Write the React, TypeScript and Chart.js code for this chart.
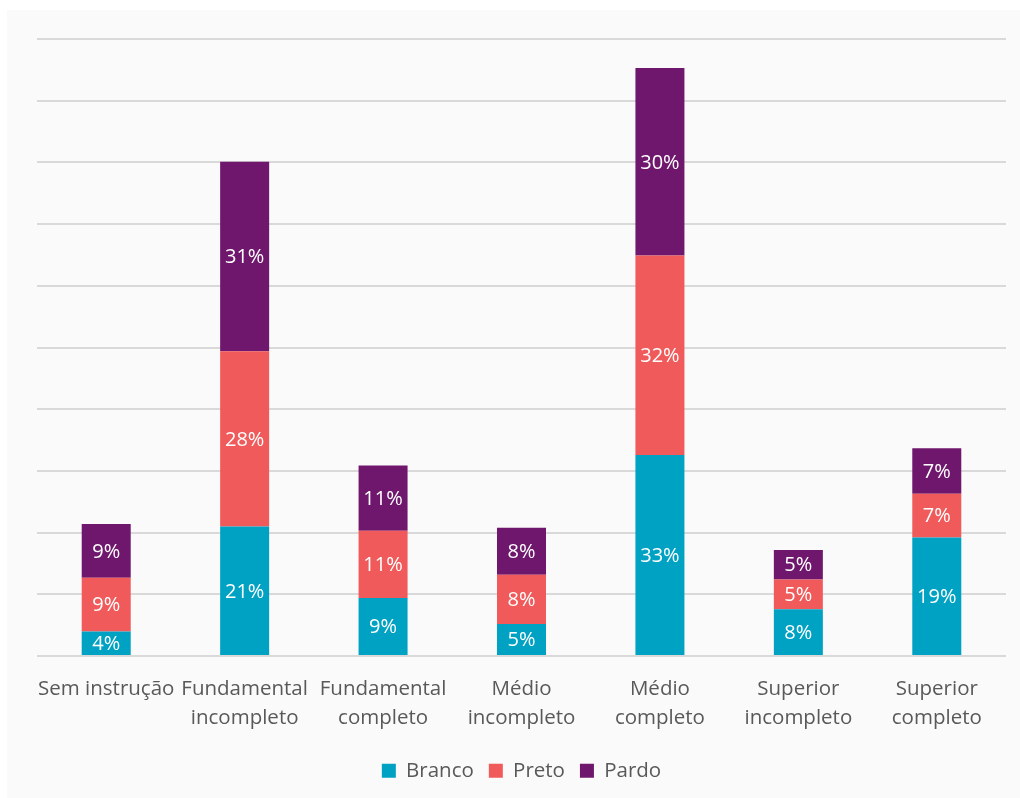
import React, { useEffect, useRef } from "react";
import { Chart, registerables } from "chart.js";

Chart.register(...registerables);

const categories: string[][] = [
  ["Sem instrução"],
  ["Fundamental", "incompleto"],
  ["Fundamental", "completo"],
  ["Médio", "incompleto"],
  ["Médio", "completo"],
  ["Superior", "incompleto"],
  ["Superior", "completo"],
];

const branco = [4.0, 21.0, 9.4, 5.2, 32.6, 7.6, 19.2];
const preto = [8.7, 28.4, 10.9, 8.0, 32.3, 4.8, 7.1];
const pardo = [8.7, 30.7, 10.6, 7.6, 30.4, 4.8, 7.4];

const seriesNames = ["Branco", "Preto", "Pardo"];
const seriesColors = ["#00A2C4", "#F05A5A", "#6F176D"];

const FONT = "'Open Sans', 'DejaVu Sans', sans-serif";

const valueLabels = {
  id: "valueLabels",
  afterDatasetsDraw(chart: any) {
    const ctx = chart.ctx;
    ctx.save();
    ctx.fillStyle = "#FFFFFF";
    ctx.font = `20px ${FONT}`;
    ctx.textAlign = "center";
    ctx.textBaseline = "middle";
    chart.data.datasets.forEach((ds: any, di: number) => {
      const meta = chart.getDatasetMeta(di);
      if (meta.hidden) return;
      meta.data.forEach((el: any, i: number) => {
        const v = ds.data[i] as number;
        const y = (el.y + el.base) / 2;
        ctx.fillText(`${Math.round(v)}%`, el.x, y + 1);
      });
    });
    ctx.restore();
  },
};

export default function App() {
  const ref = useRef<HTMLCanvasElement | null>(null);

  useEffect(() => {
    document.body.style.margin = "0";
    const canvas = ref.current;
    if (!canvas) return;
    Chart.defaults.font.family = FONT;
    const data = [branco, preto, pardo];
    const chart = new Chart(canvas, {
      type: "bar",
      data: {
        labels: categories,
        datasets: seriesNames.map((name, i) => ({
          label: name,
          data: data[i],
          backgroundColor: seriesColors[i],
          borderWidth: 0,
          barPercentage: 0.354,
          categoryPercentage: 1,
        })),
      },
      plugins: [valueLabels],
      options: {
        responsive: true,
        maintainAspectRatio: false,
        animation: false,
        layout: { padding: { left: 30, right: 14, top: 29, bottom: 7 } },
        scales: {
          x: {
            stacked: true,
            grid: { display: false, drawTicks: false },
            border: { display: false },
            ticks: {
              color: "#595959",
              font: { size: 20.5, lineHeight: 1.4 },
              padding: 19,
              maxRotation: 0,
              autoSkip: false,
            },
            afterFit(scale: any) {
              scale.height -= 6;
            },
          },
          y: {
            stacked: true,
            min: 0,
            max: 100,
            ticks: { display: false, stepSize: 10 },
            grid: { color: "#D9D9D9", lineWidth: 2, drawTicks: false },
            border: { display: false },
          },
        },
        plugins: {
          legend: {
            position: "bottom",
            labels: {
              boxWidth: 14,
              boxHeight: 14,
              padding: 15,
              color: "#595959",
              font: { size: 20.5 },
            },
          },
          tooltip: { enabled: false },
        },
      },
    });
    return () => chart.destroy();
  }, []);

  return (
    <div style={{ position: "absolute", left: 0, top: 0, width: 1020, height: 798, background: "#FFFFFF" }}>
      <div style={{ position: "absolute", left: 7, top: 10, width: 1013, height: 788, background: "#FAFAFA" }}>
        <canvas ref={ref} />
      </div>
    </div>
  );
}
